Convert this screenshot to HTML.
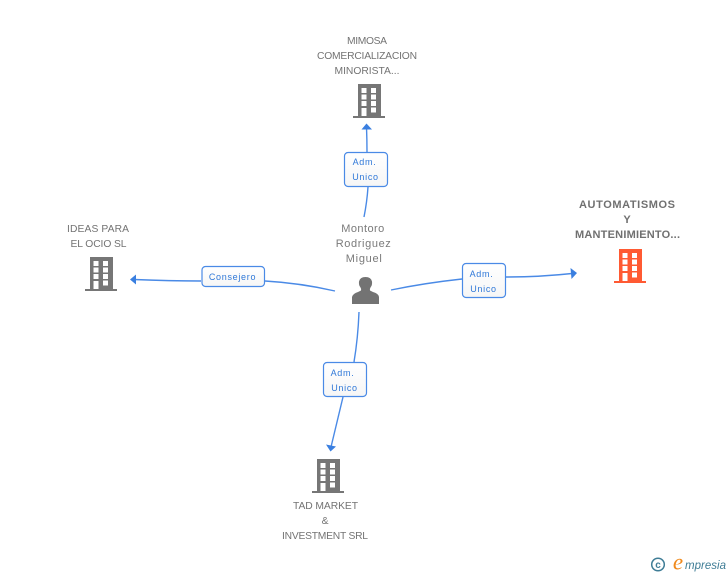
<!DOCTYPE html>
<html><head><meta charset="utf-8">
<style>
html,body{margin:0;padding:0;background:#fff}
svg{display:block}
text{font-family:"Liberation Sans",sans-serif}
.n{font-size:10.300px;fill:#737373;text-anchor:middle}
.m{font-size:11px;fill:#7a7a7a;text-anchor:middle;letter-spacing:.45px}
.b{font-size:11px;fill:#707070;text-anchor:middle;font-weight:bold}
.l{font-size:9px;fill:#2f78d8;text-anchor:middle;letter-spacing:.7px}
.e{fill:none;stroke:#4a8ae6;stroke-width:1.4}
.a{fill:#3a7fe0}
.box{stroke:#4a8ae6;stroke-width:1.2;fill:url(#g)}
</style></head>
<body>
<svg width="728" height="575" viewBox="0 0 728 575" xmlns="http://www.w3.org/2000/svg">
<defs>
<linearGradient id="g" x1="0" y1="0" x2="0" y2="1"><stop offset="0" stop-color="#fff"/><stop offset="1" stop-color="#f6f6f6"/></linearGradient>
<g id="bld">
<rect x="5" y="0" width="23" height="32"/>
<rect x="0" y="32" width="32" height="2"/>
<g fill="#fff">
<rect x="8.500" y="4" width="5" height="5"/><rect x="18" y="4" width="5" height="5"/>
<rect x="8.500" y="10.500" width="5" height="5"/><rect x="18" y="10.500" width="5" height="5"/>
<rect x="8.500" y="17" width="5" height="5"/><rect x="18" y="17" width="5" height="5"/>
<rect x="8.500" y="24" width="5" height="8"/><rect x="18" y="23.500" width="5" height="5"/>
</g>
</g>
</defs>

<path class="e" d="M368 187 Q367 202 364 217"/>
<path class="e" d="M367 152 Q367 140 366.500 127"/>
<path class="a" d="M366.500 123.500 L372 129.500 L361.500 129.500 Z"/>

<path class="e" d="M335 291 Q300 283 265 281"/>
<path class="e" d="M201 281 Q170 281 134 279.500"/>
<path class="a" d="M130 279.500 L136 274.500 L136 284.500 Z"/>

<path class="e" d="M391 290 Q425 283 462 279"/>
<path class="e" d="M506 277 Q540 277 572 273.500"/>
<path class="a" d="M577 273 L570.500 268 L571.500 279 Z"/>

<path class="e" d="M359 312 Q358 338 354 362"/>
<path class="e" d="M343 397 L331 447"/>
<path class="a" d="M330.500 451.500 L326 444.500 L336 446.500 Z"/>

<rect class="box" x="344.500" y="152.500" width="43" height="34" rx="3.500"/>
<text class="l" x="364.500" y="165">Adm.</text>
<text class="l" x="365.500" y="180">Unico</text>

<rect class="box" x="202" y="266.500" width="62.500" height="20" rx="3.500"/>
<text class="l" x="232.500" y="280">Consejero</text>

<rect class="box" x="462.500" y="263.500" width="43" height="34" rx="3.500"/>
<text class="l" x="481.500" y="277">Adm.</text>
<text class="l" x="483.500" y="292">Unico</text>

<rect class="box" x="323.500" y="362.500" width="43" height="34" rx="3.500"/>
<text class="l" x="342.500" y="376">Adm.</text>
<text class="l" x="344.500" y="391">Unico</text>

<text class="n" x="367" y="44" textLength="40">MIMOSA</text>
<text class="n" x="367" y="59" textLength="100">COMERCIALIZACION</text>
<text class="n" x="367" y="74" textLength="65">MINORISTA...</text>
<use href="#bld" x="353" y="84" fill="#767676"/>

<text class="n" x="98" y="232" textLength="62">IDEAS PARA</text>
<text class="n" x="98.500" y="247" textLength="56">EL OCIO SL</text>
<use href="#bld" x="85" y="257" fill="#767676"/>

<text class="m" x="363" y="232">Montoro</text>
<text class="m" x="363.500" y="247" textLength="55.500">Rodriguez</text>
<text class="m" x="364" y="262" textLength="36.500">Miguel</text>
<path fill="#737373" d="M352 304 L352 297 Q353 293.500 358 292 L361 290.500 Q361.500 289 360.500 287.500 Q358.500 285 359 281.500 Q360 277 365.500 277 Q371 277 372 281.500 Q372.500 285 370.500 287.500 Q369.500 289 370 290.500 L373 292 Q378.500 293.500 379 297 L379 304 Z"/>

<text class="b" x="627" y="208" textLength="96">AUTOMATISMOS</text>
<text class="b" x="627" y="223">Y</text>
<text class="b" x="627.500" y="238" textLength="105">MANTENIMIENTO...</text>
<use href="#bld" x="614" y="249" fill="#ff5a33"/>

<use href="#bld" x="312" y="459" fill="#767676"/>
<text class="n" x="325.500" y="509" textLength="65">TAD MARKET</text>
<text class="n" x="325" y="524">&amp;</text>
<text class="n" x="325" y="539" textLength="86">INVESTMENT SRL</text>

<circle cx="658" cy="564.500" r="6.300" fill="none" stroke="#3f7d96" stroke-width="1.500"/>
<text x="658" y="568" text-anchor="middle" style="font-size:10px;font-weight:bold;fill:#3f7d96">c</text>
<text x="678" y="569.500" text-anchor="middle" style="font-family:'Liberation Serif',serif;font-style:italic;font-size:23px;fill:#f08a1d">e</text>
<text x="685" y="569" textLength="41" style="font-style:italic;font-size:11.500px;fill:#3f7d96">mpresia</text>
</svg>
</body></html>
